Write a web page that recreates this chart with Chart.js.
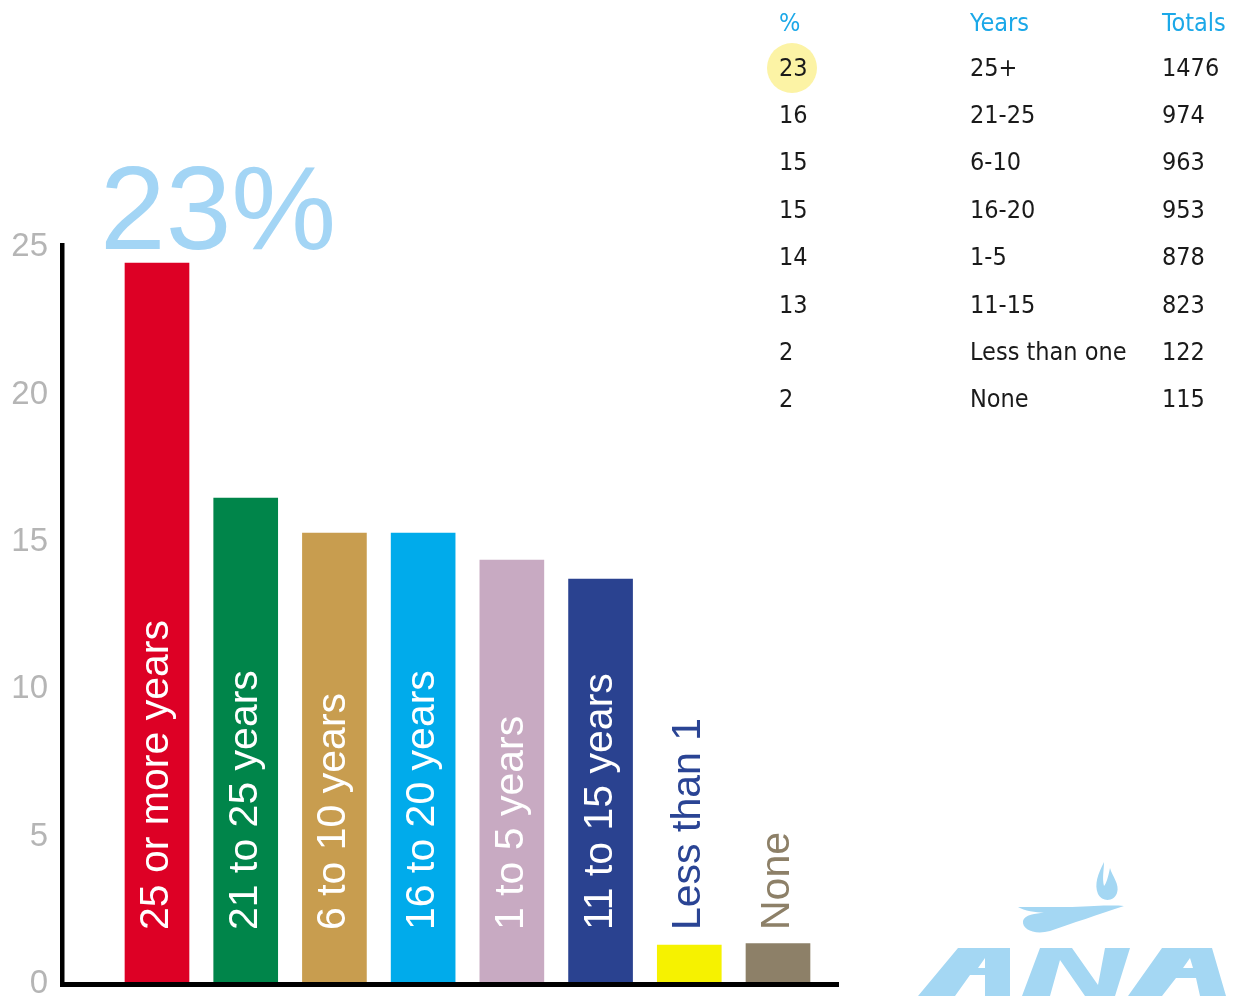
<!DOCTYPE html>
<html>
<head>
<meta charset="utf-8">
<script src="https://cdn.jsdelivr.net/npm/chart.js@4.4.1/dist/chart.umd.min.js"></script>
<style>
  html, body { margin: 0; padding: 0; background: #fff; }
  #wrap { position: relative; width: 1234px; height: 996px; overflow: hidden; }
  #chart { position: absolute; left: 0; top: 0; }
  .cell {
    position: absolute;
    font-family: "DejaVu Sans Condensed", "DejaVu Sans", sans-serif;
    font-stretch: condensed;
    font-size: 25px;
    line-height: 30px;
    color: #1a1a1a;
    white-space: nowrap;
  }
  .cell.head { color: #1ba8e8; }
  #dot {
    position: absolute; left: 767px; top: 43px;
    width: 50px; height: 50px; border-radius: 50%;
    background: #fcf3a5;
  }
  #logo { position: absolute; left: 900px; top: 840px; }
</style>
</head>
<body>
<div id="wrap">
  <div id="dot"></div>
  <canvas id="chart" width="1234" height="996"></canvas>
  <div id="table"></div>
  <svg id="logo" width="334" height="156" viewBox="900 840 334 156">
    <path d="M1104,862 C1098,874 1094,884 1098,894 C1102,902 1114,902 1117,893 C1120,884 1112,876 1110,868 C1108,878 1106,884 1104,886 C1102,878 1104,870 1104,862 Z" fill="#a4d7f3"/>
    <path d="M1018,907 L1072,907 C1095,906 1112,905 1124,906 C1100,914 1070,924 1050,931 C1035,935 1022,930 1023,921 C1024,915 1036,913 1044,913 C1036,912 1024,911 1018,907 Z" fill="#a4d7f3"/>
    <path d="M918,996 L958,948 L1010,948 L1010,996 L985,996 L985,975 L970,975 L955,996 Z M985,968 L985,958 L978,968 Z" fill="#a4d7f3" fill-rule="evenodd"/>
    <path d="M1022,996 L1040,948 L1072,948 L1098,985 L1105,948 L1130,948 L1115,996 L1085,996 L1060,960 L1050,996 Z" fill="#a4d7f3"/>
    <path d="M1128,996 L1162,948 L1212,948 L1226,996 L1200,996 L1196,978 L1176,978 L1162,996 Z M1193,968 L1190,958 L1183,968 Z" fill="#a4d7f3" fill-rule="evenodd"/>
  </svg>
</div>
<script>
// bar chart data (heights)
const categories = ['25 or more years', '21 to 25 years', '6 to 10 years', '16 to 20 years',
  '1 to 5 years', '11 to 15 years', 'Less than 1', 'None'];
const values = [24.46, 16.49, 15.3, 15.3, 14.38, 13.74, 1.32, 1.37];
const barColors = ['#dd0025', '#00854a', '#c89d4f', '#00abeb', '#c8aac2', '#2a4290', '#f6f200', '#8d8068'];
const labelColors = ['#fff', '#fff', '#fff', '#fff', '#fff', '#fff', '#2a4494', '#8d8068'];
const yTicks = [0, 5, 10, 15, 20, 25];
const yMax = 25.14;
const bigLabel = '23%';

// table at the top right
const tableHeads = ['%', 'Years', 'Totals'];
const tablePct = ['23', '16', '15', '15', '14', '13', '2', '2'];
const tableYears = ['25+', '21-25', '6-10', '16-20', '1-5', '11-15', 'Less than one', 'None'];
const tableTotals = ['1476', '974', '963', '953', '878', '823', '122', '115'];

// build table
const colX = [779, 970, 1162];
const table = document.getElementById('table');
function addCell(text, x, cy, cls) {
  const d = document.createElement('div');
  d.className = 'cell' + (cls ? ' ' + cls : '');
  d.style.left = x + 'px';
  d.style.top = (cy - 15) + 'px';
  d.textContent = text;
  table.appendChild(d);
}
tableHeads.forEach((h, i) => addCell(h, colX[i], 22.5, 'head'));
[tablePct, tableYears, tableTotals].forEach((col, c) => {
  col.forEach((t, r) => addCell(t, colX[c], 67.5 + r * 47.4));
});

// axes, rotated labels and the big figure
const decor = {
  id: 'decor',
  afterDatasetsDraw(chart) {
    const { ctx, chartArea, scales: { x, y } } = chart;
    const y0 = y.getPixelForValue(0);
    ctx.save();
    ctx.fillStyle = '#000';
    ctx.fillRect(60, chartArea.top, 4.5, y0 - chartArea.top + 3);
    ctx.fillRect(60, y0 - 2, 779, 5);

    ctx.font = '41px "Liberation Sans", Arial, sans-serif';
    ctx.textAlign = 'left';
    ctx.textBaseline = 'alphabetic';
    categories.forEach((lab, i) => {
      const cx = x.getPixelForValue(i);
      ctx.save();
      ctx.translate(cx + 11, y0 - 54);
      ctx.rotate(-Math.PI / 2);
      ctx.fillStyle = labelColors[i];
      ctx.fillText(lab, 0, 0);
      ctx.restore();
    });

    ctx.fillStyle = '#a3d5f5';
    ctx.font = '118px "Liberation Sans", Arial, sans-serif';
    ctx.fillText(bigLabel, 100, 249);
    ctx.restore();
  }
};

new Chart(document.getElementById('chart'), {
  type: 'bar',
  data: {
    labels: categories,
    datasets: [{
      data: values,
      backgroundColor: barColors,
      borderWidth: 0,
      barThickness: 64
    }]
  },
  options: {
    responsive: false,
    animation: false,
    layout: { padding: { left: 0, right: 411.65, top: 243, bottom: 12 } },
    plugins: { legend: { display: false }, tooltip: { enabled: false } },
    scales: {
      x: { display: false },
      y: {
        min: 0,
        max: yMax,
        grid: { display: false, drawTicks: false },
        border: { display: false },
        afterFit(s) {
          s.width = 112.64;
          // big tick padding would otherwise shrink the plot vertically
          s.paddingTop = 0;
          s.paddingBottom = 0;
        },
        afterBuildTicks(s) { s.ticks = yTicks.map(v => ({ value: v })); },
        ticks: {
          padding: 64.6,
          color: '#b5b5b5',
          font: { family: '"Liberation Sans", Arial, sans-serif', size: 33 }
        }
      }
    }
  },
  plugins: [decor]
});
</script>
</body>
</html>
